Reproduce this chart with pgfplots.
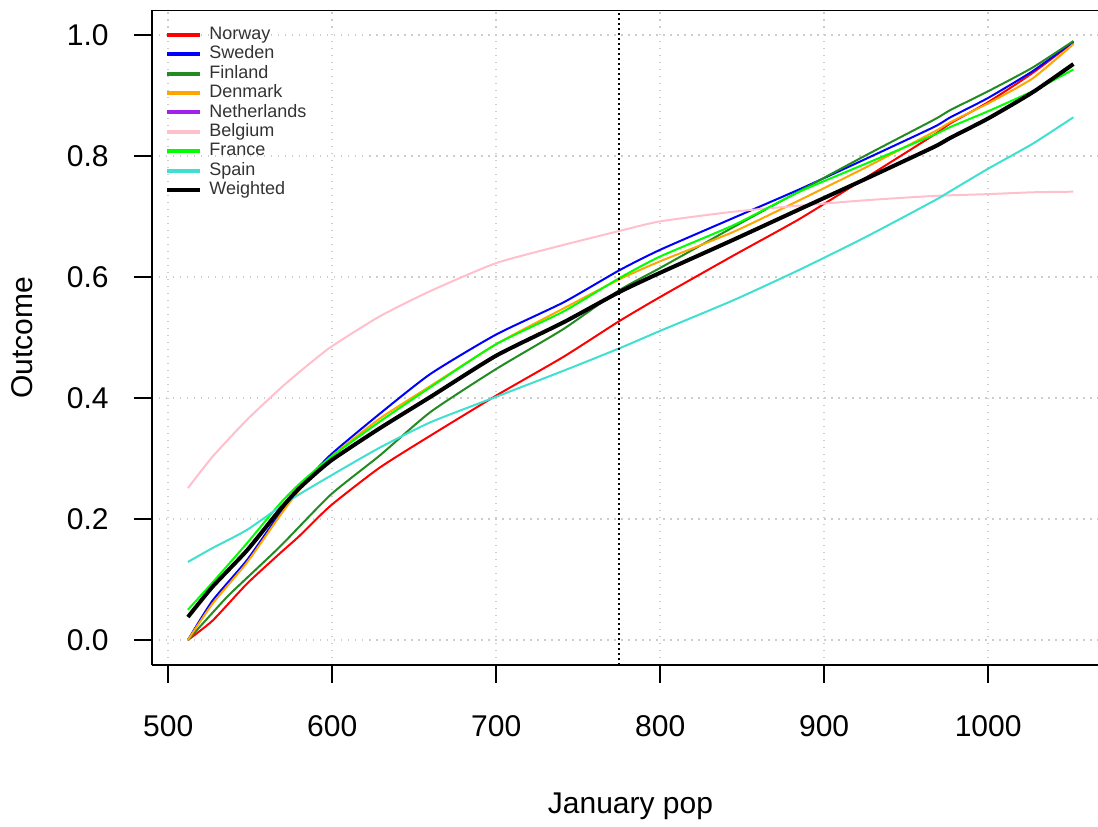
\documentclass[border=0pt]{standalone}
\usepackage{pgfplots}
\pgfplotsset{compat=1.18}
\usepackage{fontspec}
\setmainfont{Liberation Sans}
\definecolor{rred}{RGB}{255,0,0}
\definecolor{rblue}{RGB}{0,0,255}
\definecolor{rforest}{RGB}{34,139,34}
\definecolor{rorange}{RGB}{255,165,0}
\definecolor{rpurple}{RGB}{160,32,240}
\definecolor{rpink}{RGB}{255,192,203}
\definecolor{rgreen}{RGB}{0,255,0}
\definecolor{rturq}{RGB}{64,224,208}
\begin{document}
\begin{tikzpicture}
\useasboundingbox (-76pt,-80.5pt) rectangle (473pt,332.5pt);
\begin{axis}[
  at={(0pt,0pt)}, anchor=south west,
  scale only axis, width=473pt, height=327.5pt,
  xmin=490.1, xmax=1067, ymin=-0.0413, ymax=1.0413,
  axis x line*=bottom, axis y line*=left,
  axis line style={line width=0.75pt},
  xtick={500,600,700,800,900,1000}, ytick={0,0.2,0.4,0.6,0.8,1},
  tick align=outside, major tick length=9pt,
  tick style={black, line width=0.75pt},
  grid=major,
  grid style={gray!40, line width=0.75pt, dash pattern=on 0.75pt off 2.75pt},
  /pgf/number format/assume math mode=true,
  ticklabel style={font=\fontsize{15}{18}\selectfont, inner sep=0pt},
  xticklabel style={anchor=north, yshift=-16pt, /pgf/number format/1000 sep={}},
  yticklabel style={anchor=east, xshift=-12.5pt, /pgf/number format/.cd, fixed, fixed zerofill, precision=1},
  xlabel={January pop},
  xlabel style={at={(axis description cs:0.5058,0)}, anchor=base, yshift=-74pt, inner sep=0pt, font=\fontsize{15}{18}\selectfont},
  ylabel={Outcome},
  ylabel style={at={(axis description cs:0,0.5)}, anchor=base, yshift=59.5pt, inner sep=0pt, font=\fontsize{15}{18}\selectfont},
  legend cell align=left,
  legend image code/.code={\draw[#1, line width=2pt] (0pt,0pt) -- (16.5pt,0pt);},
  legend style={at={(axis description cs:0,1)}, anchor=north west, xshift=6.5pt, yshift=-8pt,
    draw=none, fill=none, inner sep=0pt, row sep=1.3pt,
    font=\fontsize{9}{10}\selectfont, text=black!80,
    nodes={inner sep=0pt, text height=6.5pt, text depth=1.9pt},
    /tikz/every odd column/.append style={column sep=3.5pt}},
  every axis plot/.append style={smooth, tension=0.35},
]
\addplot[rred, line width=1pt] coordinates {
(512,0) (527,0.032) (548,0.093) (568,0.143) (580,0.172) (599,0.222) (629,0.285) (660,0.338) (700,0.404) (741,0.468) (775,0.527) (800,0.567) (845,0.636) (885,0.696) (926,0.765) (967,0.835) (977,0.854) (1000,0.889) (1027,0.937) (1052,0.988)};
\addlegendentry{Norway}
\addplot[rblue, line width=1pt] coordinates {
(512,0) (527,0.065) (548,0.132) (568,0.209) (580,0.251) (599,0.306) (629,0.374) (660,0.44) (700,0.505) (741,0.558) (775,0.611) (800,0.645) (845,0.698) (885,0.745) (926,0.796) (967,0.848) (977,0.864) (1000,0.896) (1027,0.94) (1052,0.989)};
\addlegendentry{Sweden}
\addplot[rforest, line width=1pt] coordinates {
(512,0) (527,0.045) (538,0.077) (568,0.154) (599,0.24) (629,0.305) (660,0.377) (700,0.448) (741,0.514) (775,0.578) (800,0.615) (845,0.683) (885,0.742) (926,0.802) (967,0.86) (977,0.876) (1000,0.907) (1027,0.946) (1052,0.99)};
\addlegendentry{Finland}
\addplot[rorange, line width=1pt] coordinates {
(512,0) (527,0.06) (548,0.128) (568,0.205) (580,0.248) (599,0.302) (629,0.366) (660,0.42) (700,0.489) (741,0.548) (775,0.596) (800,0.626) (845,0.675) (885,0.727) (926,0.782) (967,0.84) (977,0.856) (1000,0.887) (1027,0.928) (1052,0.985)};
\addlegendentry{Denmark}
\addlegendimage{rpurple, line width=1pt}
\addlegendentry{Netherlands}
\addplot[rpink, line width=1pt] coordinates {
(512,0.251) (527,0.303) (548,0.364) (568,0.415) (580,0.443) (599,0.484) (629,0.535) (660,0.577) (700,0.623) (741,0.653) (775,0.676) (800,0.692) (845,0.708) (885,0.718) (926,0.727) (967,0.734) (1000,0.737) (1027,0.74) (1052,0.741)};
\addlegendentry{Belgium}
\addplot[rgreen, line width=1pt] coordinates {
(512,0.05) (527,0.095) (548,0.16) (568,0.225) (580,0.258) (599,0.302) (629,0.361) (660,0.418) (700,0.489) (741,0.543) (775,0.598) (800,0.634) (845,0.686) (885,0.741) (926,0.788) (967,0.835) (977,0.848) (1000,0.874) (1027,0.907) (1052,0.943)};
\addlegendentry{France}
\addplot[rturq, line width=1pt] coordinates {
(512,0.129) (527,0.152) (548,0.182) (574,0.231) (600,0.273) (629,0.318) (660,0.36) (700,0.402) (741,0.445) (775,0.482) (800,0.511) (845,0.562) (885,0.612) (926,0.667) (967,0.726) (977,0.742) (1000,0.779) (1027,0.82) (1052,0.864)};
\addlegendentry{Spain}
\addplot[black, line width=2pt] coordinates {
(512,0.038) (527,0.088) (548,0.148) (568,0.215) (580,0.251) (599,0.296) (629,0.35) (660,0.402) (700,0.47) (741,0.525) (775,0.575) (800,0.607) (845,0.662) (885,0.712) (926,0.763) (967,0.815) (977,0.83) (1000,0.862) (1027,0.905) (1052,0.952)};
\addlegendentry{Weighted}
\addplot[black, line width=0.9pt, dash pattern=on 0.9pt off 1.6pt, forget plot, sharp plot] coordinates {(775,-0.0413) (775,1.0413)};
\draw[line width=0.75pt] (rel axis cs:0,1) -- (rel axis cs:1,1);
\end{axis}
\end{tikzpicture}
\end{document}
